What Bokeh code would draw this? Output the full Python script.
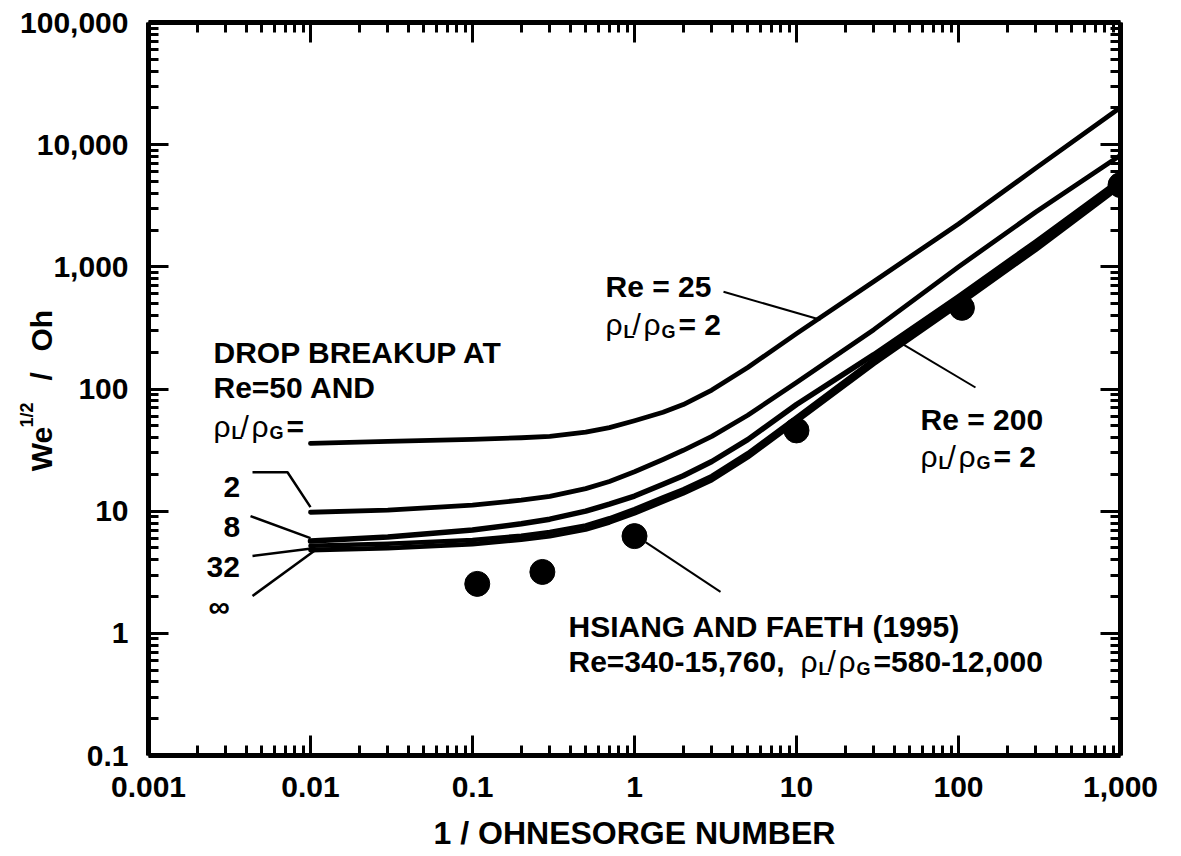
import math
from bokeh.plotting import figure
from bokeh.models import (Range1d, LogAxis, FixedTicker, CustomJSTickFormatter, Label)
from bokeh.core.properties import value
from bokeh.embed import file_html
from bokeh.resources import INLINE

# ---------------- data ----------------
inv_oh = [0.01, 0.03, 0.1, 0.2, 0.3, 0.5, 0.7, 1, 1.5, 2, 3, 5, 10, 30, 100, 300, 1000]
re25_rho2 = [35.9, 37.2, 38.7, 39.9, 41.0, 44.3, 48.3, 55.0, 64.5, 74.5, 98, 150, 284, 760, 2240, 6430, 20200]
re50_rho2 = [9.8, 10.2, 11.2, 12.3, 13.2, 15.3, 17.5, 21.0, 26.5, 31.5, 41, 61, 113, 306, 1000, 2810, 8200]
re50_rho8 = [5.69, 6.14, 7.0, 7.9, 8.6, 10.0, 11.4, 13.3, 16.6, 19.5, 25.5, 38.5, 74.7, 191, 569, 1600, 5130]
re50_rho32 = [5.2, 5.4, 5.8, 6.3, 6.75, 7.65, 8.75, 10.4, 13.0, 15.1, 19.4, 29.8, 58.6, 174, 529, 1490, 4950]
re50_rhoinf = [4.81, 4.99, 5.38, 5.85, 6.25, 7.1, 8.1, 9.6, 12.0, 14.0, 18.0, 27.6, 54.3, 161, 490, 1380, 4580]

hf_x = [0.107, 0.27, 1.0, 10, 105, 1000]
hf_y = [2.54, 3.18, 6.25, 45.8, 462, 4670]

x_ticks = [0.001, 0.01, 0.1, 1, 10, 100, 1000]
x_tick_labels = ["0.001", "0.01", "0.1", "1", "10", "100", "1,000"]
y_ticks = [0.1, 1, 10, 100, 1000, 10000, 100000]
y_tick_labels = ["0.1", "1", "10", "100", "1,000", "10,000", "100,000"]

FONT = "Liberation Sans"

# ---------------- layout helpers (picture position -> plot coords) ----------------
X0, DX = 148.0, 162.0     # page px of x=0.001, px per decade
Y0, DY = 22.0, 122.5      # page px of y=1e5, px per decade


def fx(px):
    return 10 ** ((px - X0) / DX - 3)


def fy(py):
    return 10 ** (5 - (py - Y0) / DY)


p = figure(width=1181, height=856, x_axis_type="log", y_axis_type="log",
           x_range=Range1d(0.001, 1000), y_range=Range1d(0.1, 1e5),
           output_backend="svg", toolbar_location=None,
           min_border_left=148, min_border_right=61, min_border_top=22,
           min_border_bottom=101)
p.grid.visible = False
p.outline_line_color = None
p.background_fill_color = "white"
p.border_fill_color = "white"


def minors(lo, hi):
    return [m * 10 ** e for e in range(lo, hi) for m in range(2, 10)]


fmt_code = """
for (let i = 0; i < tvals.length; i++) {
  if (Math.abs(Math.log10(tick) - Math.log10(tvals[i])) < 1e-6) return tlabels[i];
}
return "";
"""

xt = FixedTicker(ticks=x_ticks, minor_ticks=minors(-3, 3))
yt = FixedTicker(ticks=y_ticks, minor_ticks=minors(-1, 5))
xf = CustomJSTickFormatter(args=dict(tvals=x_ticks, tlabels=x_tick_labels), code=fmt_code)
yf = CustomJSTickFormatter(args=dict(tvals=y_ticks, tlabels=y_tick_labels), code=fmt_code)
blank = CustomJSTickFormatter(code="return '';")


def style_axis(ax):
    ax.axis_line_width = 5
    ax.axis_line_color = "black"
    ax.major_tick_in = 20
    ax.major_tick_out = 0
    ax.minor_tick_in = 10
    ax.minor_tick_out = 0
    ax.major_tick_line_width = 3
    ax.minor_tick_line_width = 3
    ax.major_tick_line_color = "black"
    ax.minor_tick_line_color = "black"
    ax.major_label_text_font = FONT
    ax.major_label_text_font_style = "bold"
    ax.major_label_text_font_size = "30px"
    ax.major_label_text_color = "black"


xa = p.xaxis[0]
xa.ticker = xt
xa.formatter = xf
style_axis(xa)
xa.major_label_standoff = 21
xa.axis_label = "1 / OHNESORGE NUMBER"
xa.axis_label_text_font = FONT
xa.axis_label_text_font_style = "bold"
xa.axis_label_text_font_size = "32px"
xa.axis_label_text_color = "black"
xa.axis_label_standoff = 15

ya = p.yaxis[0]
ya.ticker = yt
ya.formatter = yf
style_axis(ya)
ya.major_label_standoff = 20

top = LogAxis(ticker=xt, formatter=blank)
style_axis(top)
top.major_label_text_font_size = "0px"
top.major_label_standoff = 0
p.add_layout(top, "above")

right = LogAxis(ticker=yt, formatter=blank)
style_axis(right)
right.major_label_text_font_size = "0px"
right.major_label_standoff = 0
p.add_layout(right, "right")

# ---------------- curves ----------------
for ys, w in [(re25_rho2, 4.8), (re50_rho2, 4.8), (re50_rho8, 5.5),
              (re50_rho32, 4.5), (re50_rhoinf, 4.8)]:
    p.line(inv_oh, ys, line_color="black", line_width=w,
           line_cap="round", line_join="round")

p.scatter(hf_x, hf_y, size=25, marker="circle", fill_color="black", line_color="black")


# ---------------- annotations ----------------
def txt(px, py, s, size=30, style="bold"):
    p.add_layout(Label(x=fx(px), y=fy(py), text=s, text_font=FONT,
                       text_font_size=f"{size}px", text_font_style=style,
                       text_color="black", text_align="left",
                       text_baseline="alphabetic"))


def rho_ratio(px, py, suffix):
    txt(px, py, "ρ", style="normal")
    txt(px + 18, py + 7, "L", size=18)
    txt(px + 27, py, "/", style="normal")
    txt(px + 38, py, "ρ", style="normal")
    txt(px + 56, py + 7, "G", size=18)
    txt(px + 73, py, suffix)


def leader(pts, w=2.5):
    p.line([fx(a) for a, b in pts], [fy(b) for a, b in pts],
           line_color="black", line_width=w)


txt(213, 353, "DROP BREAKUP AT")
txt(213, 388, "Re=50 AND")
rho_ratio(213, 427, "=")

txt(223, 488, "2")
txt(223, 528, "8")
txt(206, 568, "32")
txt(208, 608, "∞")
leader([(252, 473), (287, 473), (310, 508)])
leader([(250, 517), (310, 539)])
leader([(252, 557), (315, 549)])
leader([(252, 597), (315, 551)])

txt(605, 287, "Re = 25")
rho_ratio(605, 325, "= 2")
leader([(723, 292), (820, 320)], w=2)

txt(920, 420, "Re = 200")
rho_ratio(920, 457, "= 2")
leader([(903, 345), (975, 388)], w=2)

txt(568, 628, "HSIANG AND FAETH (1995)")
txt(568, 663, "Re=340-15,760,")
rho_ratio(800, 663, "=580-12,000")
leader([(645, 543), (720, 593)], w=2)


# rotated y-axis title (drawn at overlay level so it is not clipped to the frame)
def vtxt(px, py, s, size):
    r = p.text(x=[fx(px)], y=[fy(py)], text=[s], angle=math.pi / 2,
               text_font=value(FONT), text_font_size=value(f"{size}px"),
               text_font_style="bold", text_color="black",
               text_align="left", text_baseline="alphabetic")
    r.level = "overlay"


vtxt(41, 472, "We", 30)
vtxt(26, 428, "1/2", 18)
vtxt(41, 381, "/", 30)
vtxt(41, 352, "Oh", 30)

open("out.html", "w").write(file_html(p, INLINE))
